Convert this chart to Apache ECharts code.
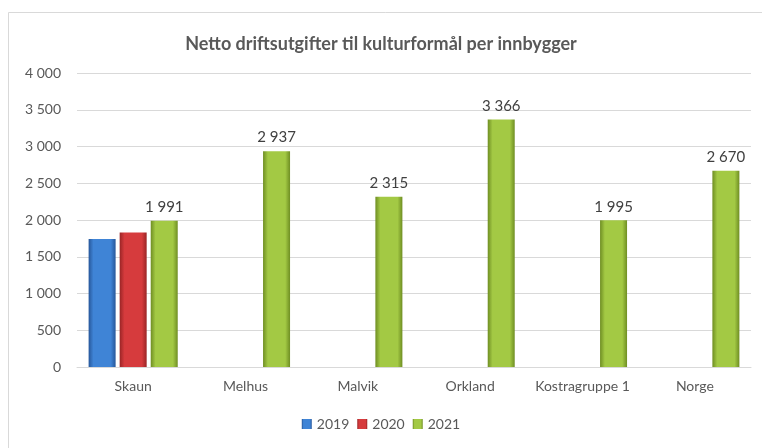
<!DOCTYPE html>
<html><head><meta charset="utf-8">
<script src="https://cdn.jsdelivr.net/npm/echarts@6/dist/echarts.min.js"></script>
<style>html,body{margin:0;padding:0;background:#fff}#c{width:762px;height:448px}</style>
</head><body><div id="c"></div>
<script>
const categories = ['Skaun','Melhus','Malvik','Orkland','Kostragruppe 1','Norge'];
const s2019 = [1740, null, null, null, null, null];
const s2020 = [1830, null, null, null, null, null];
const s2021 = [1991, 2937, 2315, 3366, 1995, 2670];
const yTicks = {min: 0, max: 4000, interval: 500};

function fmt(v){ return String(v).replace(/\B(?=(\d{3})+(?!\d))/g, '\u00a0'); }
function grad(edge, mid){
  return new echarts.graphic.LinearGradient(0,0,1,0,[
    {offset:0,color:edge},{offset:0.18,color:mid},{offset:0.82,color:mid},{offset:1,color:edge}]);
}
const font = 'Lato, "Open Sans", sans-serif';
const chart = echarts.init(document.getElementById('c'), null, {renderer:'canvas'});
chart.setOption({
  animation:false,
  backgroundColor:'#fff',
  title:{text:'Netto driftsutgifter til kulturformål per innbygger', left:'center', top:30,
    textStyle:{fontFamily:font, fontSize:18, fontWeight:'bold', color:'#595959'}},
  graphic:[{type:'rect', shape:{x:8.5,y:12.5,width:800,height:500}, style:{fill:'none',stroke:'#d9d9d9',lineWidth:1}, silent:true}],
  legend:{bottom:12, left:'center', itemWidth:10, itemHeight:10, itemGap:8,
    textStyle:{fontFamily:font, fontSize:14, color:'#595959'},
    data:[{name:'2019',icon:'rect'},{name:'2020',icon:'rect'},{name:'2021',icon:'rect'}]},
  grid:{left:77, right:11, top:73, bottom:81, containLabel:false},
  xAxis:{type:'category', data:categories,
    axisLine:{lineStyle:{color:'#d9d9d9'}}, axisTick:{show:false},
    axisLabel:{interval:0, fontFamily:font, fontSize:14, color:'#595959', margin:12}},
  yAxis:{type:'value', min:yTicks.min, max:yTicks.max, interval:yTicks.interval,
    axisLine:{show:false}, axisTick:{show:false},
    splitLine:{lineStyle:{color:'#d9d9d9'}},
    axisLabel:{fontFamily:font, fontSize:14, color:'#595959', margin:16, formatter:v=>fmt(v)}},
  series:[
    {name:'2019', type:'bar', data:s2019, barWidth:27, barGap:'15%',
      itemStyle:{color:grad('#27579a','#3f84d6')}},
    {name:'2020', type:'bar', data:s2020, barWidth:27, barGap:'15%',
      itemStyle:{color:grad('#9a2526','#d63b3d')}},
    {name:'2021', type:'bar', data:s2021, barWidth:27, barGap:'15%',
      itemStyle:{color:grad('#6f8e23','#a3c944')},
      label:{show:true, position:'top', distance:6, fontFamily:font, fontSize:15, color:'#404040',
        formatter:p=>fmt(p.value)}}
  ]
});
</script></body></html>
